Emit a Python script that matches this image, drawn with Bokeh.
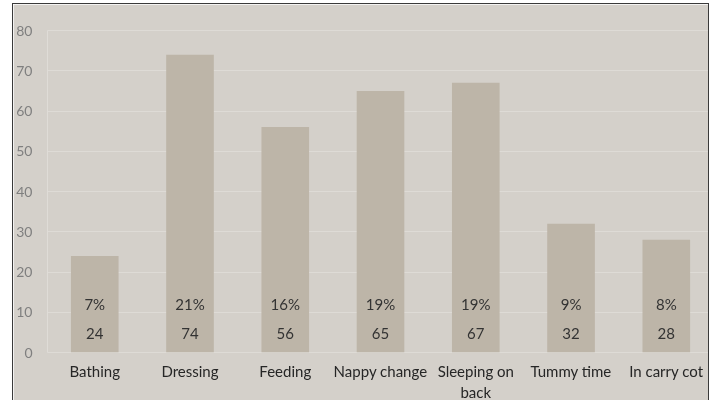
from bokeh.plotting import figure
from bokeh.models import ColumnDataSource, Range1d, FixedTicker
from bokeh.core.properties import value
from bokeh.embed import file_html
from bokeh.resources import INLINE

categories = ["Bathing", "Dressing", "Feeding", "Nappy change", "Sleeping on back", "Tummy time", "In carry cot"]
counts = [24, 74, 56, 65, 67, 32, 28]
percent_labels = ["7%", "21%", "16%", "19%", "19%", "9%", "8%"]
y_ticks = [0, 10, 20, 30, 40, 50, 60, 70, 80]

BG = "#D4D0CA"
BAR = "#BDB5A8"
GRID = "#DEDBD6"
FONT = "Lato"

xs = list(range(len(categories)))
src = ColumnDataSource(dict(
    x=xs,
    count=counts,
    count_txt=[str(c) for c in counts],
    pct=percent_labels,
    pct_y=[12.0] * len(xs),
    cnt_y=[4.7] * len(xs),
))

p = figure(width=697, height=400, output_backend="svg", toolbar_location=None,
           x_range=Range1d(-0.496, 6.464), y_range=Range1d(0, 80),
           min_border_left=33, min_border_right=0, min_border_top=26, min_border_bottom=48)
p.background_fill_color = BG
p.border_fill_color = BG
p.outline_line_color = None
p.styles = {"border-top": "1px solid #3a3a3a", "border-left": "1px solid #3a3a3a",
            "border-right": "1px solid #3a3a3a", "position": "fixed",
            "left": "12px", "top": "3px"}

p.vbar(x="x", top="count", width=0.5, source=src, fill_color=BAR, line_color=None)

p.text(x="x", y="pct_y", text="pct", source=src, text_align="center", text_baseline="middle",
       text_font=value(FONT), text_font_size="15px", text_color="#333333")
p.text(x="x", y="cnt_y", text="count_txt", source=src, text_align="center", text_baseline="middle",
       text_font=value(FONT), text_font_size="15px", text_color="#333333")

p.xgrid.grid_line_color = None
p.ygrid.grid_line_color = GRID
p.ygrid.grid_line_width = 1
p.yaxis.ticker = FixedTicker(ticks=y_ticks)
p.yaxis.axis_line_color = None
p.yaxis.major_tick_line_color = None
p.yaxis.minor_tick_line_color = None
p.yaxis.major_tick_out = 0
p.yaxis.major_tick_in = 0
p.yaxis.major_label_text_color = "#7F7F7F"
p.yaxis.major_label_text_font = FONT
p.yaxis.major_label_text_font_size = "14px"
p.yaxis.major_label_standoff = 15

p.xaxis.ticker = FixedTicker(ticks=xs)
p.xaxis.major_label_overrides = {i: (c if c != "Sleeping on back" else "Sleeping on\nback") for i, c in enumerate(categories)}
p.xaxis.axis_line_color = None
p.xaxis.major_tick_line_color = None
p.xaxis.minor_tick_line_color = None
p.xaxis.major_tick_out = 0
p.xaxis.major_tick_in = 0
p.xaxis.major_label_text_color = "#262626"
p.xaxis.major_label_text_font = FONT
p.xaxis.major_label_text_font_size = "15px"
p.xaxis.major_label_standoff = 9

open("out.html", "w").write(file_html(p, INLINE))
